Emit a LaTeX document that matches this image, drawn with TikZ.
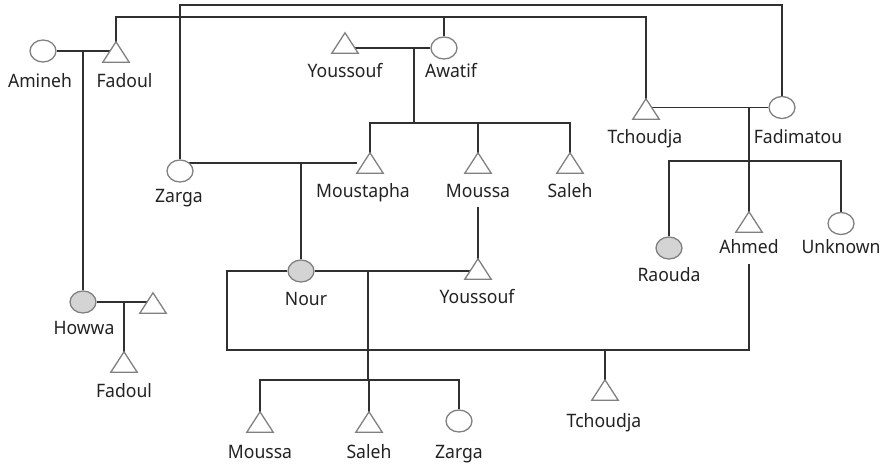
\documentclass[tikz,border=0pt]{standalone}
\usepackage{fontspec}
\setmainfont[FakeStretch=0.95]{Noto Sans}
\usetikzlibrary{shapes.geometric}
\pgfdeclarelayer{bg}
\pgfsetlayers{bg,main}
\definecolor{shapegray}{HTML}{808080}
\definecolor{linegray}{HTML}{303030}
\definecolor{fillgray}{HTML}{D4D4D4}
\definecolor{textcol}{HTML}{222222}
\tikzset{
  female/.style={ellipse, draw=shapegray, line width=1.3pt, fill=white,
    minimum width=26pt, minimum height=22pt, inner sep=0pt},
  femalegray/.style={female, fill=fillgray},
  malebox/.style={rectangle, minimum width=26pt, minimum height=20pt, inner sep=0pt},
  tri/.style={draw=shapegray, line width=1.3pt, fill=white, line join=miter},
  link/.style={draw=linegray, line width=1.2pt},
  lbl/.style={anchor=base, inner sep=0pt, text=textcol, font=\fontsize{18.5}{22}\selectfont},
}
\newcommand{\maletri}[3]{%
  \node[malebox] (#1) at (#2,#3) {};
  \draw[tri] (#1.south west) -- (#1.north) -- (#1.south east) -- cycle;}
\begin{document}
\begin{tikzpicture}[x=1pt,y=-1pt]
\useasboundingbox (0,0) rectangle (888,471);
% ---- people ----
\node[female] (amineh) at (43,51) {};
\maletri{fadoulA}{116}{52}
\maletri{youssoufA}{345}{43}
\node[female] (awatif) at (444,48) {};
\maletri{tchoudjaA}{646}{109}
\node[female] (fadimatou) at (782,107.5) {};
\node[female] (zargaA) at (180,171) {};
\maletri{moustapha}{370}{163}
\maletri{moussaA}{478}{163}
\maletri{salehA}{570}{163}
\node[femalegray] (nour) at (301,271) {};
\maletri{youssoufB}{478}{269}
\node[femalegray] (raouda) at (669,248) {};
\maletri{ahmed}{749}{222}
\node[female] (unknown) at (841,223.5) {};
\node[femalegray] (howwa) at (83,302) {};
\maletri{husband}{153}{303}
\maletri{fadoulB}{124}{362}
\maletri{moussaB}{260}{422}
\maletri{salehB}{369}{422}
\node[female] (zargaB) at (459,421) {};
\maletri{tchoudjaB}{605}{390}
% ---- labels ----
\node[lbl] (aminehl) at (40,87) {Amineh};
\node[lbl] (fadoulAl) at (124.5,87) {Fadoul};
\node[lbl] (youssoufAl) at (345,77) {Youssouf};
\node[lbl] (awatifl) at (451,77) {Awatif};
\node[lbl] (tchoudjaAl) at (645,143) {Tchoudja};
\node[lbl] (fadimatoul) at (798,143) {Fadimatou};
\node[lbl] (zargaAl) at (179,202) {Zarga};
\node[lbl] (moustaphal) at (363,197) {Moustapha};
\node[lbl] (moussaAl) at (478,197) {Moussa};
\node[lbl] (salehAl) at (570,197) {Saleh};
\node[lbl] (nourl) at (306,305) {Nour};
\node[lbl] (youssoufBl) at (477,303) {Youssouf};
\node[lbl] (raoudal) at (669,281) {Raouda};
\node[lbl] (ahmedl) at (749,253) {Ahmed};
\node[lbl] (unknownl) at (841,253) {Unknown};
\node[lbl] (howwal) at (84,334) {Howwa};
\node[lbl] (fadoulBl) at (124,397) {Fadoul};
\node[lbl] (tchoudjaBl) at (604,427) {Tchoudja};
\node[lbl] (moussaBl) at (260,458) {Moussa};
\node[lbl] (salehBl) at (369,458) {Saleh};
\node[lbl] (zargaBl) at (459,458) {Zarga};
% ---- junctions ----
\coordinate (topA) at (480,5);
\coordinate (topB) at (400,17);
\coordinate (jA) at (83,51);
\coordinate (jB) at (414,48);
\coordinate (kB) at (414,123);
\coordinate (jD) at (368,271);
\coordinate (kD) at (368,380);
\coordinate (kEL) at (227,350);
\coordinate (kER) at (749,350);
\coordinate (kE) at (605,350);
\coordinate (jF) at (749,107.5);
\coordinate (kF) at (749,161);
\coordinate (jG) at (124,302);
% ---- connectors ----
\begin{pgfonlayer}{bg}
\draw[link] (zargaA) |- (topA) -| (fadimatou);
\draw[link] (fadoulA) |- (topB) -| (tchoudjaA);
\draw[link] (awatif) -- (awatif |- topB);
\draw[link] (amineh) -- (amineh -| fadoulA);
\draw[link] (jA) -- (howwa);
\draw[link] (awatif) -- (awatif -| youssoufA);
\draw[link] (jB) -- (kB);
\draw[link] (moustapha) |- (kB) -| (salehA);
\draw[link] (moussaA) -- (moussaA |- kB);
\draw[link] (moustapha) -- (moustapha -| zargaA);
\draw[link] (nour |- moustapha) -- (nour);
\draw[link] (nour) -- (nour -| youssoufB);
\draw[link] (jD) -- (kD);
\draw[link] (moussaB) |- (kD) -| (zargaB);
\draw[link] (salehB) -- (salehB |- kD);
\draw[link] ([yshift=-10pt]moussaAl.base) -- (youssoufB);
\draw[link] (nour) -| (kEL) -- (kER) -- ([yshift=-11pt]ahmedl.base);
\draw[link] (kE) -- (tchoudjaB);
\draw[link] (fadimatou) -- (fadimatou -| tchoudjaA);
\draw[link] (jF) -- (ahmed);
\draw[link] (raouda) |- (kF) -| (unknown);
\draw[link] (howwa) -- (howwa -| husband);
\draw[link] (jG) -- (fadoulB);
\end{pgfonlayer}
\end{tikzpicture}
\end{document}
